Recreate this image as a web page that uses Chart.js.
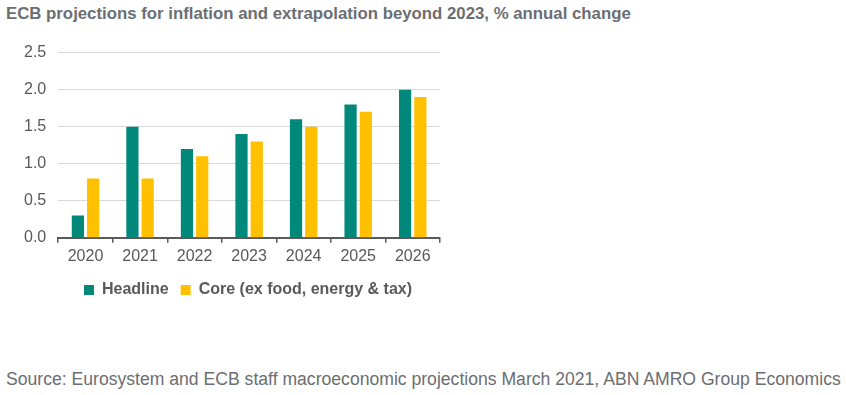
<!DOCTYPE html>
<html>
<head>
<meta charset="utf-8">
<script src="https://cdn.jsdelivr.net/npm/chart.js@4"></script>
<style>
    body { margin: 0; background: #fff; width: 846px; height: 395px; position: relative; font-family: "Liberation Sans", Arial, sans-serif; }
    #title { position: absolute; left: 6px; top: 4px; font-size: 16.8px; font-weight: bold; color: #6b6e72; }
    #chartBox { position: absolute; left: 0; top: 31px; width: 460px; height: 277px; }
    #source { position: absolute; left: 6px; top: 369px; font-size: 17.6px; color: #6b6e72; }
</style>
</head>
<body>
<div id="title">ECB projections for inflation and extrapolation beyond 2023, % annual change</div>
<div id="chartBox"><canvas id="inflChart"></canvas></div>
<div id="source">Source: Eurosystem and ECB staff macroeconomic projections March 2021, ABN AMRO Group Economics</div>
<script>
// --- Data ---
const years = ['2020', '2021', '2022', '2023', '2024', '2025', '2026'];
const headline = [0.3, 1.5, 1.2, 1.4, 1.6, 1.8, 2.0];
const core = [0.8, 0.8, 1.1, 1.3, 1.5, 1.7, 1.9];
const yTicks = [0, 0.5, 1.0, 1.5, 2.0, 2.5];

const textGrey = '#595959';

// geser legend sedikit ke kanan, biar tengahnya sama dengan area plot
const legendShift = {
    id: 'legendShift',
    afterLayout(chart) {
        chart.legend.left += 22;
        chart.legend.right += 22;
    }
};

new Chart(document.getElementById('inflChart'), {
    type: 'bar',
    data: {
        labels: years,
        datasets: [
            { label: 'Headline', data: headline, backgroundColor: '#00897b' },
            { label: 'Core (ex food, energy & tax)', data: core, backgroundColor: '#ffc000' }
        ]
    },
    options: {
        responsive: true,
        maintainAspectRatio: false,
        animation: false,
        categoryPercentage: 0.56,
        barPercentage: 0.8,
        layout: { padding: { left: 12, right: 20, top: 4, bottom: 0 } },
        plugins: {
            tooltip: { enabled: false },
            legend: {
                position: 'bottom',
                labels: {
                    boxWidth: 10,
                    boxHeight: 10,
                    color: textGrey,
                    font: { family: '"Liberation Sans", Arial', size: 16, weight: 'bold' },
                    padding: 12
                }
            }
        },
        scales: {
            y: {
                min: 0,
                max: 2.5,
                afterBuildTicks: (axis) => { axis.ticks = yTicks.map(v => ({ value: v })); },
                ticks: {
                    color: textGrey,
                    font: { family: '"Liberation Sans", Arial', size: 16 },
                    padding: 12,
                    callback: (v) => Number(v).toFixed(1)
                },
                grid: { color: '#d9d9d9', drawTicks: false },
                border: { display: false }
            },
            x: {
                ticks: {
                    color: textGrey,
                    font: { family: '"Liberation Sans", Arial', size: 16 },
                    padding: 4
                },
                grid: { offset: true, drawOnChartArea: false, drawTicks: true, tickLength: 5, color: '#595959', lineWidth: 1.5 },
                border: { color: '#595959', width: 2 }
            }
        }
    },
    plugins: [legendShift]
});
</script>
</body>
</html>
